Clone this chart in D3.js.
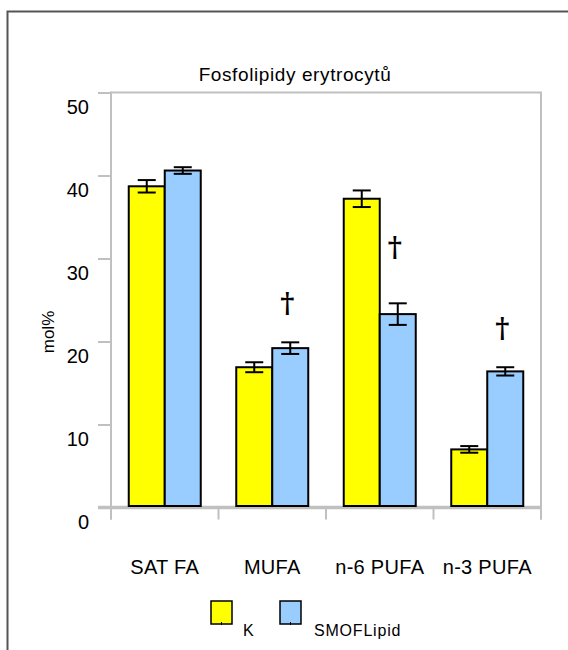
<!DOCTYPE html>
<html>
<head>
<meta charset="utf-8">
<script src="https://cdn.jsdelivr.net/npm/d3@7"></script>
<style>
  html, body { margin: 0; padding: 0; background: #fff; }
  svg { display: block; }
  text { font-family: "Liberation Sans", Arial, sans-serif; fill: #000; }
</style>
</head>
<body>
<svg id="chart" width="568" height="650"></svg>
<script>
// Fatty acid groups in erythrocyte phospholipids (mol%)
const categories = ["SAT FA", "MUFA", "n-6 PUFA", "n-3 PUFA"];
const seriesNames = ["K", "SMOFLipid"];
const valuesK    = [38.7, 16.9, 37.2, 7.0];
const errorsK    = [0.75, 0.6, 1.0, 0.4];
const valuesSMOF = [40.6, 19.2, 23.3, 16.4];
const errorsSMOF = [0.4, 0.7, 1.3, 0.5];
// significance mark (†) level in mol%, per category
const daggerLevel = [null, 23.4, 30.2, 20.4];
const yTicks = [0, 10, 20, 30, 40, 50];
const colors = ["#ffff00", "#99ccff"];

(function () {
const svg = d3.select("#chart");

// outer frame (top and left edges)
svg.append("path")
  .attr("d", "M7.5,650 L7.5,11.5 L568,11.5")
  .attr("fill", "none").attr("stroke", "#555").attr("stroke-width", 2);

svg.append("text")
  .attr("x", 295).attr("y", 81)
  .attr("text-anchor", "middle")
  .style("font-size", "19px")
  .style("letter-spacing", "0.6px")
  .text("Fosfolipidy erytrocytů");

const pLeft = 111, pRight = 541, pTop = 92.5, pBottom = 507.5;

const y = d3.scaleLinear().domain([0, 50]).range([pBottom, pTop]);
const x = d3.scaleBand().domain(categories).range([pLeft, pRight]).padding(0);
const xs = d3.scaleBand().domain(seriesNames).range([0, 72]).padding(0);
const pairOffset = (x.bandwidth() - 72) / 2;

const grey = "#c0c0c0";

// plot frame: top and right
svg.append("path")
  .attr("d", `M${pLeft},${pTop} L${pRight},${pTop} L${pRight},${pBottom + 12}`)
  .attr("fill", "none").attr("stroke", grey).attr("stroke-width", 2);

// y axis
const yAxis = svg.append("g")
  .attr("transform", `translate(${pLeft},0)`)
  .call(d3.axisLeft(y).tickValues(yTicks).tickSize(13).tickPadding(9).tickFormat(d3.format("d")));
yAxis.select(".domain").remove();
yAxis.selectAll(".tick line").attr("stroke", grey).attr("stroke-width", 2);
yAxis.selectAll(".tick text").attr("dy", "1.05em").style("font-size", "20px").attr("font-family", null);
svg.append("line")
  .attr("x1", pLeft).attr("x2", pLeft).attr("y1", pTop - 1).attr("y2", pBottom + 12)
  .attr("stroke", grey).attr("stroke-width", 2);

// x axis: thick baseline and ticks at category boundaries
svg.append("line")
  .attr("x1", pLeft - 13).attr("x2", pRight).attr("y1", pBottom).attr("y2", pBottom)
  .attr("stroke", grey).attr("stroke-width", 3.5);
const bounds = categories.map(c => x(c)).concat([x(categories[categories.length - 1]) + x.bandwidth()]);
svg.selectAll(".xtick").data(bounds).enter().append("line")
  .attr("x1", d => d).attr("x2", d => d)
  .attr("y1", pBottom).attr("y2", pBottom + 12)
  .attr("stroke", grey).attr("stroke-width", 2);

const xAxis = svg.append("g")
  .attr("transform", `translate(0,${pBottom})`)
  .call(d3.axisBottom(x).tickSize(0).tickPadding(0));
xAxis.select(".domain").remove();
xAxis.selectAll(".tick text").attr("y", 66).attr("dy", 0)
  .style("font-size", "20px").style("letter-spacing", "0.3px").attr("font-family", null);

// y axis title
svg.append("text")
  .attr("transform", "translate(54,332) rotate(-90)")
  .attr("text-anchor", "middle")
  .style("font-size", "17px")
  .text("mol%");

// bars
const rows = categories.map((c, i) => ({
  cat: c,
  vals: [
    { s: seriesNames[0], v: valuesK[i], e: errorsK[i], color: colors[0] },
    { s: seriesNames[1], v: valuesSMOF[i], e: errorsSMOF[i], color: colors[1] }
  ],
  dagger: daggerLevel[i]
}));

const groups = svg.selectAll(".grp").data(rows).enter().append("g")
  .attr("transform", d => `translate(${x(d.cat) + pairOffset},0)`);

groups.selectAll("rect").data(d => d.vals).enter().append("rect")
  .attr("x", d => xs(d.s))
  .attr("width", xs.bandwidth())
  .attr("y", d => y(d.v))
  .attr("height", d => y(0) - y(d.v) - 1.5)
  .attr("fill", d => d.color)
  .attr("stroke", "#000").attr("stroke-width", 2);

// error bars
const err = groups.selectAll(".err").data(d => d.vals).enter().append("g")
  .attr("transform", d => `translate(${xs(d.s) + xs.bandwidth() / 2},0)`);
err.append("line")
  .attr("y1", d => y(d.v + d.e)).attr("y2", d => y(d.v - d.e))
  .attr("stroke", "#000").attr("stroke-width", 2);
err.selectAll(".cap").data(d => [d.v + d.e, d.v - d.e]).enter().append("line")
  .attr("x1", -9).attr("x2", 9)
  .attr("y1", d => y(d)).attr("y2", d => y(d))
  .attr("stroke", "#000").attr("stroke-width", 2);

// significance daggers above the SMOFLipid bars
groups.filter(d => d.dagger !== null).append("text")
  .attr("x", xs(seriesNames[1]) + xs.bandwidth() / 2 - 3)
  .attr("y", d => y(d.dagger))
  .attr("text-anchor", "middle")
  .style("font-family", "'DejaVu Serif', serif")
  .style("font-weight", "bold")
  .style("font-size", "27px")
  .text("†");

// legend
const legendX = [211, 280];
const legendItems = svg.append("g").selectAll("g").data(seriesNames).enter().append("g")
  .attr("transform", (d, i) => `translate(${legendX[i]},601)`);
legendItems.append("rect")
  .attr("width", 21).attr("height", 23)
  .attr("fill", (d, i) => colors[i])
  .attr("stroke", "#000").attr("stroke-width", 1.5);
legendItems.append("line")
  .attr("x1", 10.5).attr("x2", 10.5).attr("y1", 21).attr("y2", 24)
  .attr("stroke", "#000").attr("stroke-width", 1);
legendItems.append("text")
  .attr("x", (d, i) => i === 0 ? 32 : 34).attr("y", 35)
  .style("font-size", "16px")
  .style("letter-spacing", "0.8px")
  .text(d => d);
})();
</script>
</body>
</html>
